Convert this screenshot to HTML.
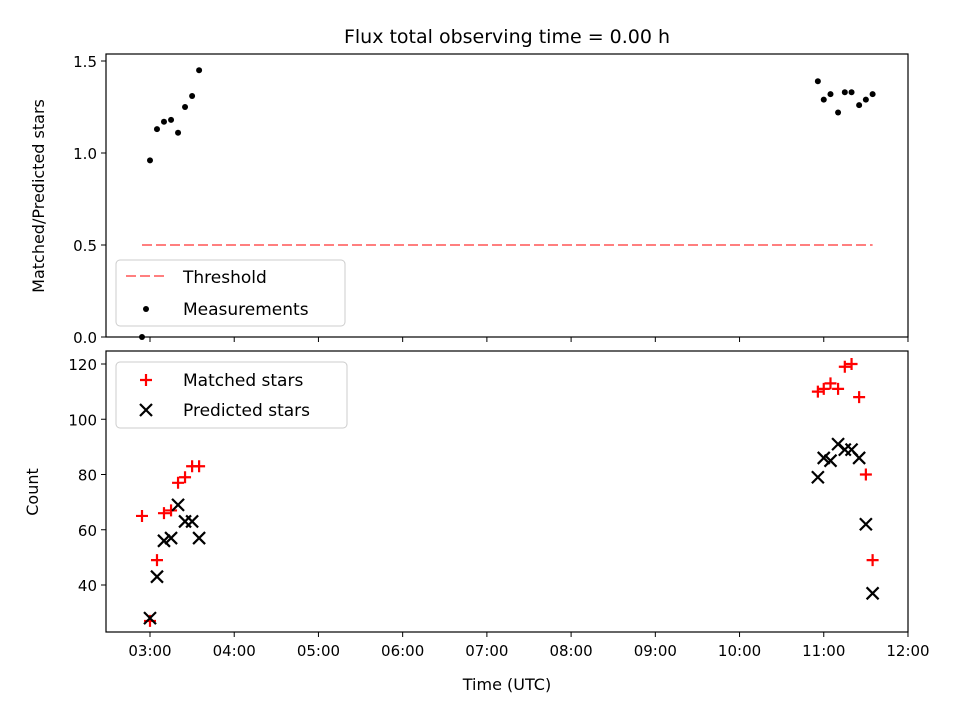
<!DOCTYPE html>
<html><head><meta charset="utf-8"><style>
body{margin:0;background:#fff}
svg{font-family:"DejaVu Sans","Liberation Sans",sans-serif}
</style></head><body>
<svg id="c" width="960" height="720" xmlns="http://www.w3.org/2000/svg"></svg>
<script>
const times=[2.905,3.0,3.083,3.166,3.25,3.333,3.416,3.5,3.583,10.93,11.0,11.08,11.17,11.25,11.33,11.42,11.5,11.58];
const ratio=[0,0.96,1.13,1.17,1.18,1.11,1.25,1.31,1.45,1.39,1.29,1.32,1.22,1.33,1.33,1.26,1.29,1.32];
const matched=[65,27,49,66,67,77,79,83,83,110,111,113,111,119,120,108,80,49];
const predicted=[null,28,43,56,57,69,63,63,57,79,86,85,91,89,89,86,62,37];
const threshold=0.5, thrStart=2.905, thrEnd=11.58;
const xTicks=[3,4,5,6,7,8,9,10,11,12];
const xTickLabels=["03:00","04:00","05:00","06:00","07:00","08:00","09:00","10:00","11:00","12:00"];
const topTicks=[0,0.5,1.0,1.5], topTickLabels=["0.0","0.5","1.0","1.5"];
const botTicks=[40,60,80,100,120];

const svg=document.getElementById('c');const NS='http://www.w3.org/2000/svg';
function el(t,a,p){const e=document.createElementNS(NS,t);for(const k in a)e.setAttribute(k,a[k]);(p||svg).appendChild(e);return e;}
const L=106,R=908;
const x=h=>150+(h-3)*84.22;
const yT=v=>337-v*184;
const yB=v=>364+(120-v)*2.7625;
function tx(s,a){const e=el('text',a);e.textContent=s;return e;}

const t=tx('Flux total observing time = 0.00 h',{x:507,y:43,'font-size':'19','text-anchor':'middle'});


const gT=el('g',{});
el('line',{x1:x(thrStart),x2:x(thrEnd),y1:yT(threshold),y2:yT(threshold),stroke:'#ff7f7f','stroke-width':2,'stroke-dasharray':'10,4'},gT);
times.forEach((h,i)=>{const c=el('circle',{cx:x(h),cy:yT(ratio[i]),r:3,fill:'#000'},gT);
});
el('rect',{x:L,y:54,width:R-L,height:283,fill:'none',stroke:'#000','stroke-width':1.2},gT);
topTicks.forEach((v,i)=>{el('line',{x1:L,x2:L-5,y1:yT(v),y2:yT(v),stroke:'#000'},gT);
const l=tx(topTickLabels[i],{x:L-9,y:yT(v)+6,'font-size':'15','text-anchor':'end'});});
xTicks.forEach(h=>el('line',{x1:x(h),x2:x(h),y1:337,y2:342,stroke:'#000'},gT));
const yl1=tx('Matched/Predicted stars',{x:0,y:0,'font-size':'16','text-anchor':'middle',transform:'translate(44,196) rotate(-90)'});

const lg=el('g',{});
el('rect',{x:116,y:260,width:229,height:66,rx:4,fill:'#fff','fill-opacity':0.85,stroke:'#ccc'},lg);
el('line',{x1:126,x2:166,y1:276,y2:276,stroke:'#ff7f7f','stroke-width':2,'stroke-dasharray':'10,4'},lg);
tx('Threshold',{x:183,y:283,'font-size':'17'});
el('circle',{cx:146,cy:309,r:3,fill:'#000'},lg);
tx('Measurements',{x:183,y:315,'font-size':'17'});

const gB=el('g',{});
function plus(cx,cy,g){return el('path',{d:`M${cx-6},${cy}h12M${cx},${cy-6}v12`,stroke:'red','stroke-width':2.2},g);}
function cross(cx,cy,g){return el('path',{d:`M${cx-6},${cy-6}l12,12M${cx-6},${cy+6}l12,-12`,stroke:'#000','stroke-width':2.2},g);}
times.forEach((h,i)=>{const p=plus(x(h),yB(matched[i]),gB);});
times.forEach((h,i)=>{if(predicted[i]==null)return;const p=cross(x(h),yB(predicted[i]),gB);});
el('rect',{x:L,y:351,width:R-L,height:281,fill:'none',stroke:'#000','stroke-width':1.2},gB);
botTicks.forEach(v=>{el('line',{x1:L,x2:L-5,y1:yB(v),y2:yB(v),stroke:'#000'},gB);
tx(String(v),{x:L-9,y:yB(v)+6,'font-size':'15','text-anchor':'end'});});
xTicks.forEach((h,i)=>{el('line',{x1:x(h),x2:x(h),y1:632,y2:637,stroke:'#000'},gB);
tx(xTickLabels[i],{x:x(h),y:656,'font-size':'15','text-anchor':'middle'});});
tx('Count',{x:0,y:0,'font-size':'16','text-anchor':'middle',transform:'translate(38,492) rotate(-90)'});
tx('Time (UTC)',{x:507,y:690,'font-size':'16','text-anchor':'middle'});
const lg2=el('g',{});
el('rect',{x:116,y:362,width:231,height:66,rx:4,fill:'#fff','fill-opacity':0.85,stroke:'#ccc'},lg2);
plus(146,380,lg2);tx('Matched stars',{x:183,y:386,'font-size':'17'});
cross(146,410,lg2);tx('Predicted stars',{x:183,y:416,'font-size':'17'});
</script>
</body></html>
